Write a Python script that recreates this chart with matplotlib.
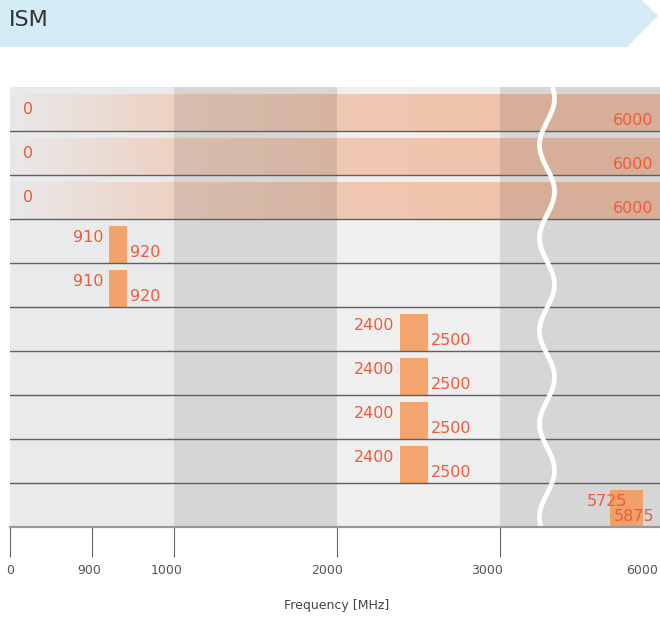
import numpy as np
import matplotlib
matplotlib.use("Agg")
import matplotlib.pyplot as plt
from matplotlib import transforms as mtrans
from matplotlib.patches import Polygon
from matplotlib.colors import LinearSegmentedColormap, to_rgb

# ---------------- data ----------------
title = "ISM"
band_starts = [0, 0, 0, 910, 910, 2400, 2400, 2400, 2400, 5725]
band_ends = [6000, 6000, 6000, 920, 920, 2500, 2500, 2500, 2500, 5875]
tick_values = [0, 900, 1000, 2000, 3000, 6000]
tick_labels = ["0", "900", "1000", "2000", "3000", "6000"]
x_label = "Frequency [MHz]"

# ---------------- layout / style ----------------
W, H = 660, 617
# schematic (broken) frequency axis: frequency knots -> pixel positions
KF = [-6000, 0, 900, 910, 920, 1000, 2000, 2400, 2500, 3000, 5725, 5875, 6000, 12000]
KP = [-640, 10, 92, 109, 127, 174, 337, 400, 428, 500, 610, 643, 660, 1310]


def fwd(f):
    return np.interp(np.asarray(f, float), KF, KP)


def inv(p):
    return np.interp(np.asarray(p, float), KP, KF)


label_color = "#ef5b3a"
bar_color = "#f49856"
band_color = "#f0c3ab"

fig = plt.figure(figsize=(W / 100, H / 100), dpi=100)
px = mtrans.Affine2D().scale(1 / W, -1 / H).translate(0, 1) + fig.transFigure

# header banner
fig.patches.append(Polygon([(0, 0), (642, 0), (658, 16), (627, 47), (0, 47)],
                           closed=True, transform=px, facecolor="#d3ebf5",
                           edgecolor="none", zorder=0))
fig.text(9, 26, title, transform=px, ha="left", va="baseline",
         fontsize=16, color="#333333")

top_px, bot_px = 87, 527
ax = fig.add_axes([10 / W, (H - bot_px) / H, 650 / W, (bot_px - top_px) / H])
ax.set_xscale("function", functions=(fwd, inv))
nrows = len(band_starts)
ax.set_xlim(0, 6000)
ax.set_ylim(nrows, 0)

# column backgrounds
col_edges = [0, 1000, 2000, 3000, 6000]
col_base = ["#e9eaec", "#efefef", "#efefef", "#efefef"]
col_shade = [0.0, 0.1, 0.0, 0.1]
for a, b, c, s in zip(col_edges[:-1], col_edges[1:], col_base, col_shade):
    ax.axvspan(a, b, color=c, lw=0, zorder=0)
    if s > 0:
        ax.axvspan(a, b, color="black", alpha=s, lw=0, zorder=3)

band_cmap = LinearSegmentedColormap.from_list(
    "band", [to_rgb(band_color) + (0.0,), to_rgb(band_color) + (1.0,)])

for i, (s, e) in enumerate(zip(band_starts, band_ends)):
    wide = (e - s) >= 3000
    if wide:
        p0, p1 = float(fwd(s)), float(fwd(e))
        pe = np.linspace(p0, p1, 201)
        pc = 0.5 * (pe[1:] + pe[:-1])
        alpha = np.interp(pc, [10, 174, 337, 500], [0.04, 0.62, 0.88, 1.0])
        fe = inv(pe)
        ax.pcolormesh(fe, [i + 1 - 0.83, i + 1], alpha[None, :], cmap=band_cmap,
                      vmin=0, vmax=1, shading="flat", edgecolors="none",
                      antialiased=False, zorder=1)
        ax.annotate(str(s), xy=(s, i + 0.5), xytext=(13 * 0.72, 0),
                    textcoords="offset points", ha="left", va="center",
                    fontsize=11.5, color=label_color, zorder=7)
        ax.annotate(str(e), xy=(e, i + 0.77), xytext=(-7 * 0.72, 0),
                    textcoords="offset points", ha="right", va="center",
                    fontsize=11.5, color=label_color, zorder=7)
    else:
        ax.barh(i + 1 - 0.425, e - s, left=s, height=0.85, color=bar_color,
                alpha=0.85, lw=0, zorder=4)
        if e > 5000:
            lo = dict(xy=(e, i + 0.43), xytext=(-16 * 0.72, 0), ha="right")
            hi = dict(xy=(s, i + 0.77), xytext=(4 * 0.72, 0), ha="left")
        else:
            lo = dict(xy=(s, i + 0.43), xytext=(-6 * 0.72, 0), ha="right")
            hi = dict(xy=(e, i + 0.77), xytext=(3 * 0.72, 0), ha="left")
        for txt, d in ((str(s), lo), (str(e), hi)):
            ax.annotate(txt, xy=d["xy"], xytext=d["xytext"],
                        textcoords="offset points", ha=d["ha"], va="center",
                        fontsize=11.5, color=label_color, zorder=7)

# row separators
for i in range(1, nrows):
    ax.axhline(i, color="#5f5f5f", lw=1.0, zorder=5)

# axis-break wave
ys = np.linspace(top_px, bot_px, 400)
xs = 547 - 7.5 * np.cos(2 * np.pi * (ys - 145) / 93)
ax.plot((xs - 10) / 650, (bot_px - ys) / (bot_px - top_px), transform=ax.transAxes,
        color="white", lw=3.4, solid_capstyle="butt", zorder=6, clip_on=False)

# axes styling
for sp in ("top", "left", "right"):
    ax.spines[sp].set_visible(False)
ax.spines["bottom"].set_color("#999999")
ax.spines["bottom"].set_linewidth(1.6)
ax.spines["bottom"].set_zorder(8)
ax.set_yticks([])
ax.set_xticks(tick_values, tick_labels)
ax.xaxis.set_minor_locator(matplotlib.ticker.NullLocator())
ax.tick_params(axis="x", direction="out", length=21.6, width=0.8, color="#666666",
               pad=5, labelsize=9, labelcolor="#555555")
tick_nudge_px = [0, -2.5, -7.5, -10, -13, -18]
for lbl, dx in zip(ax.get_xticklabels(), tick_nudge_px):
    lbl.set_transform(lbl.get_transform() +
                      mtrans.ScaledTranslation(dx / 100, 0, fig.dpi_scale_trans))
ax.xaxis.get_major_ticks()[-1].tick1line.set_visible(False)

fig.text(337, 605, x_label, transform=px, ha="center", va="center",
         fontsize=9, color="#444444")

fig.savefig("out.png", dpi=100)
